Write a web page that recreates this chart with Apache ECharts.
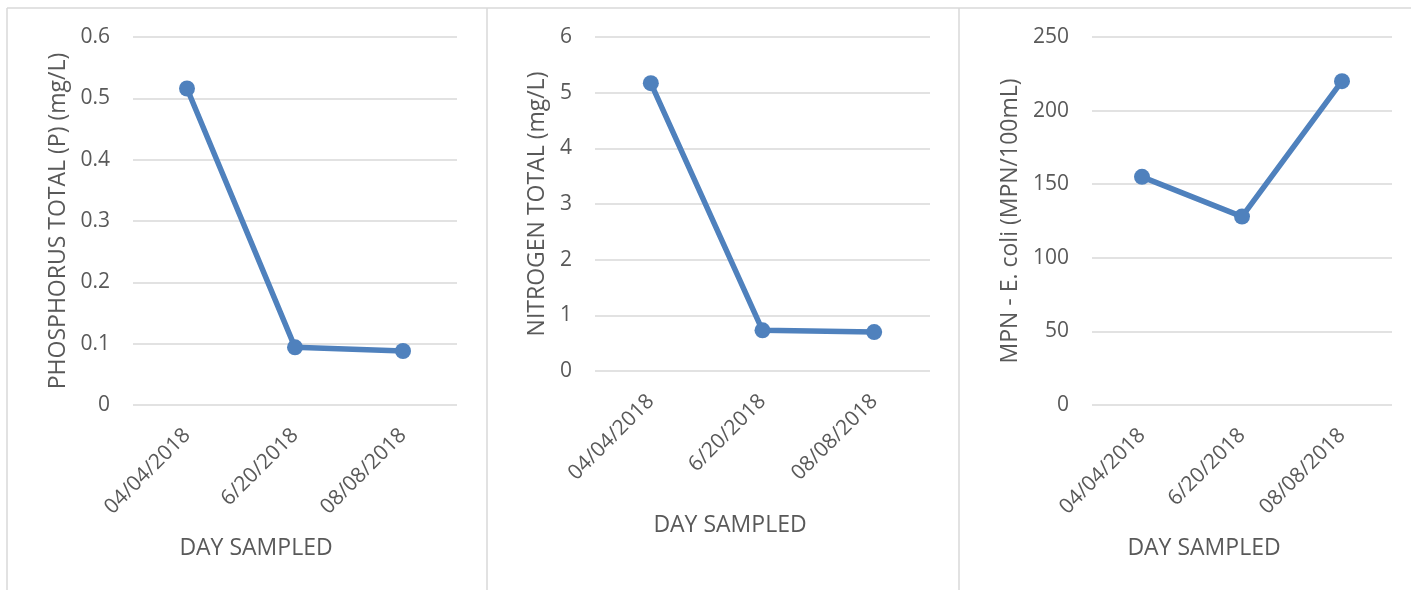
<!DOCTYPE html>
<html>
<head>
<meta charset="utf-8">
<script src="https://cdn.jsdelivr.net/npm/echarts@6/dist/echarts.min.js"></script>
<style>
html,body{margin:0;padding:0;background:#fff;}
#c{width:1411px;height:590px;}
</style>
</head>
<body>
<div id="c"></div>
<script>
const categories = ['04/04/2018', '6/20/2018', '08/08/2018'];
const phosphorus = [0.516, 0.094, 0.088];
const nitrogen = [5.17, 0.73, 0.70];
const ecoli = [155, 128, 220];
const yTitles = ['PHOSPHORUS TOTAL (P) (mg/L)', 'NITROGEN TOTAL (mg/L)', 'MPN - E. coli (MPN/100mL)'];
const xTitle = 'DAY SAMPLED';
const yMax = [0.6, 6, 250];
const yStep = [0.1, 1, 50];

const FONT = 'Open Sans';
const TXT = '#595959';
const GRID = '#d9d9d9';
const BLUE = '#4F81BD';

const grids = [
  {left: 133, top: 37, width: 324, height: 368},
  {left: 595, top: 37, width: 335, height: 334},
  {left: 1092, top: 37, width: 300, height: 368}
];
const nameGaps = [63, 46, 70];
const seriesData = [phosphorus, nitrogen, ecoli];

const chart = echarts.init(document.getElementById('c'), null, {renderer: 'canvas'});

const option = {
  backgroundColor: '#fff',
  animation: false,
  textStyle: {fontFamily: FONT},
  grid: grids.map(g => Object.assign({containLabel: false}, g)),
  xAxis: grids.map((g, i) => ({
    type: 'category',
    gridIndex: i,
    data: categories,
    boundaryGap: true,
    axisLine: {show: false},
    axisTick: {show: false},
    splitLine: {show: false},
    axisLabel: {rotate: 45, margin: 27, color: TXT, fontSize: 21, fontFamily: FONT, interval: 0}
  })),
  yAxis: grids.map((g, i) => ({
    type: 'value',
    gridIndex: i,
    min: 0,
    max: yMax[i],
    interval: yStep[i],
    name: yTitles[i],
    nameLocation: 'middle',
    nameGap: nameGaps[i],
    nameTextStyle: {color: TXT, fontSize: 23, fontFamily: FONT},
    axisLine: {show: false},
    axisTick: {show: false},
    axisLabel: {color: TXT, fontSize: 21, fontFamily: FONT, margin: 23,
      formatter: v => String(Math.round(v * 1000) / 1000)},
    splitLine: {show: true, lineStyle: {color: GRID, width: 1.5}}
  })),
  series: seriesData.map((d, i) => ({
    type: 'line',
    xAxisIndex: i,
    yAxisIndex: i,
    data: d,
    symbol: 'circle',
    symbolSize: 16,
    lineStyle: {color: BLUE, width: 5.5},
    itemStyle: {color: BLUE},
    z: 3
  })),
  graphic: [
    {type: 'line', shape: {x1: 7, y1: 8, x2: 1411, y2: 8}, style: {stroke: GRID, lineWidth: 1.5}},
    {type: 'line', shape: {x1: 7, y1: 8, x2: 7, y2: 590}, style: {stroke: GRID, lineWidth: 1.5}},
    {type: 'line', shape: {x1: 487, y1: 8, x2: 487, y2: 590}, style: {stroke: GRID, lineWidth: 1.5}},
    {type: 'line', shape: {x1: 959, y1: 8, x2: 959, y2: 590}, style: {stroke: GRID, lineWidth: 1.5}},
    {type: 'text', x: 256, y: 548, style: {text: xTitle, fill: TXT, font: '23px "Open Sans"', textAlign: 'center', textVerticalAlign: 'middle'}},
    {type: 'text', x: 730, y: 525, style: {text: xTitle, fill: TXT, font: '23px "Open Sans"', textAlign: 'center', textVerticalAlign: 'middle'}},
    {type: 'text', x: 1204, y: 548, style: {text: xTitle, fill: TXT, font: '23px "Open Sans"', textAlign: 'center', textVerticalAlign: 'middle'}}
  ]
};
chart.setOption(option);
</script>
</body>
</html>
